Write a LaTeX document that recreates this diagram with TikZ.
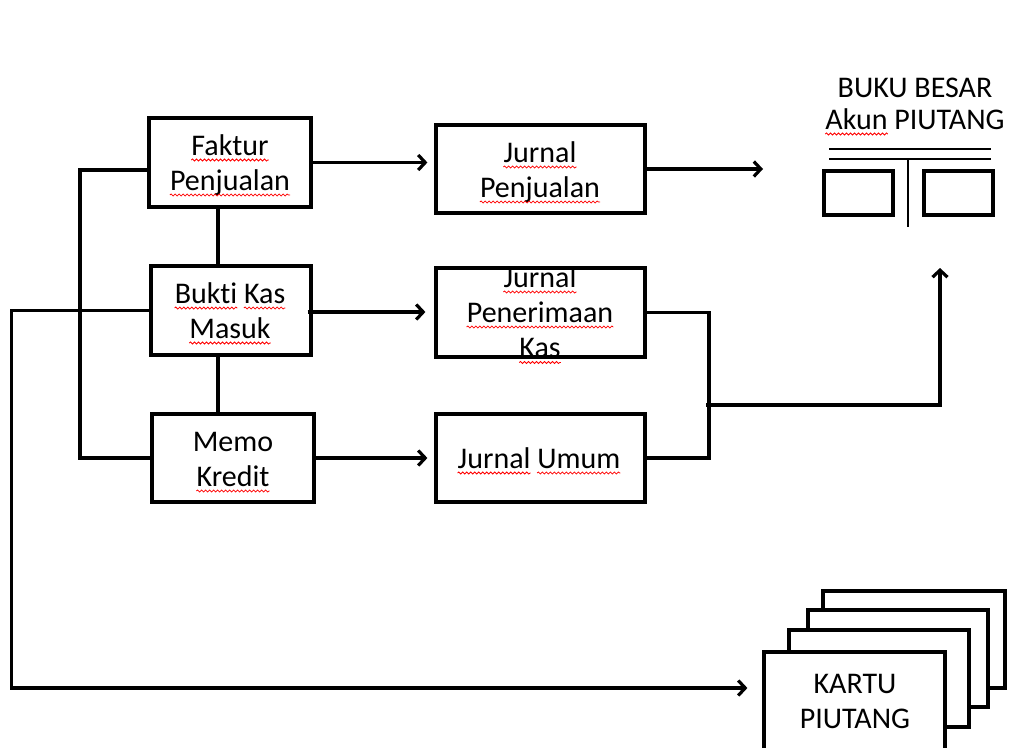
\documentclass[tikz,border=0pt]{standalone}
\usepackage{fontspec}
\setmainfont{Carlito}[Ligatures=NoCommon]
\usetikzlibrary{arrows.meta,decorations.pathmorphing}
\newcommand\dtxt{\fontsize{30}{35}\selectfont}
\begin{document}
\begin{tikzpicture}[x=1pt,y=-1pt,
  box/.style={draw=black, line width=3.2pt, fill=white, inner sep=0pt},
  wd/.style={inner sep=0pt, font=\dtxt, anchor=base},
  sqg/.style={draw=red, line width=0.8pt, decorate, decoration={snake,amplitude=1pt,segment length=4pt}},
  sqw/.style={wd, append after command={([yshift=-5pt]\tikzlastnode.base west) edge[sqg] ([yshift=-5pt]\tikzlastnode.base east)}},
  ln/.style={line width=3.2pt},
  thinln/.style={line width=1.8pt},
  arr/.style={line width=3.2pt, -{Straight Barb[length=7pt,width=15pt]}}
]
\useasboundingbox (0,0) rectangle (1011,747);
\clip (0,0) rectangle (1011,747);

% source documents
\node[box, minimum width=162pt, minimum height=89pt] (fak) at (230,162.5) {};
\node[sqw] (fak1) at (230,155) {Faktur};
\node[sqw] (fak2) at (230,190) {Penjualan};

\node[box, minimum width=160pt, minimum height=89pt] (buk) at (231,310.5) {};
\node[wd] (buk1) at (230,303) {\phantom{Bukti Kas}};
\node[sqw, anchor=base west] (buk1a) at (buk1.base west) {Bukti};
\node[sqw, anchor=base east] (buk1b) at (buk1.base east) {Kas};
\node[sqw] (buk2) at (230,338) {Masuk};

\node[box, minimum width=162pt, minimum height=88pt] (mem) at (233,458) {};
\node[wd] (mem1) at (233,451) {Memo};
\node[sqw] (mem2) at (233,486) {Kredit};

% journals
\node[box, minimum width=209pt, minimum height=88pt] (jp) at (540.5,169) {};
\node[sqw] (jp1) at (540,162) {Jurnal};
\node[sqw] (jp2) at (540,197) {Penjualan};

\node[box, minimum width=209pt, minimum height=89pt] (jpk) at (540.5,312.5) {};
\node[sqw] (jpk1) at (540,287) {Jurnal};
\node[sqw] (jpk2) at (540,322) {Penerimaan};
\node[sqw] (jpk3) at (540,357.5) {Kas};

\node[box, minimum width=209pt, minimum height=88pt] (ju) at (540.5,458) {};
\node[wd] (ju1) at (539,468) {\phantom{Jurnal Umum}};
\node[sqw, anchor=base west] (ju1a) at (ju1.base west) {Jurnal};
\node[sqw, anchor=base east] (ju1b) at (ju1.base east) {Umum};

% buku besar
\node[wd] (bbt1) at (915,97) {BUKU BESAR};
\node[wd] (bbt2) at (915,129) {\phantom{Akun PIUTANG}};
\node[sqw, anchor=base west] (bbt2a) at (bbt2.base west) {Akun};
\node[wd, anchor=base east] (bbt2b) at (bbt2.base east) {PIUTANG};
\draw[thinln] (829,149) -- (991,149);
\draw[thinln] (829,159) -- (991,159);
\draw[thinln] (908,159) -- (908,227);
\draw[ln] (824,171) rectangle (893,215);
\draw[ln] (924,171) rectangle (993,215);
\coordinate (bbin) at (763,170);
\coordinate (bbup) at (940,268);

% kartu piutang
\draw[ln, fill=white] (823,591) rectangle (1005,688);
\draw[ln, fill=white] (808,610) rectangle (988,707);
\draw[ln, fill=white] (789,630) rectangle (969,727);
\node[box, minimum width=181pt, minimum height=110pt] (kar) at (854.5,707) {};
\node[wd] (kar1) at (855,693) {KARTU};
\node[wd] (kar2) at (855,728) {PIUTANG};

% connectors left
\coordinate (vx) at (218,0);
\draw[ln] (fak.south -| vx) -- (buk.north -| vx);
\draw[ln] (buk.south -| vx) -- (mem.north -| vx);
\coordinate (lx) at (80,0);
\draw[ln] ([yshift=-7.5pt]fak.west) -| (mem.west -| lx) -- (mem.west);
\draw[arr] (buk.west) -- ++(-138,0) |- ([xshift=-15pt,yshift=19pt]kar.west);

% arrows to journals
\draw[arr, shorten >=7pt] (fak.east) -- (fak.east -| jp.west);
\draw[arr, shorten <=-5pt, shorten >=9pt] ([yshift=-1.5pt]buk.east) -- ([yshift=-1.5pt]buk.east -| jpk.west);
\draw[arr, shorten <=-3pt, shorten >=7pt] (mem.east) -- (mem.east -| ju.west);

% journals to ledger
\draw[arr] (jp.east) -- (jp.east -| bbin);
\coordinate (rx) at (709,0);
\draw[ln] (jpk.east) -| (rx |- ju.east) -- (ju.east);
\coordinate (mj) at (706,405);
\draw[arr] (mj) -| (bbup);
\end{tikzpicture}
\end{document}
